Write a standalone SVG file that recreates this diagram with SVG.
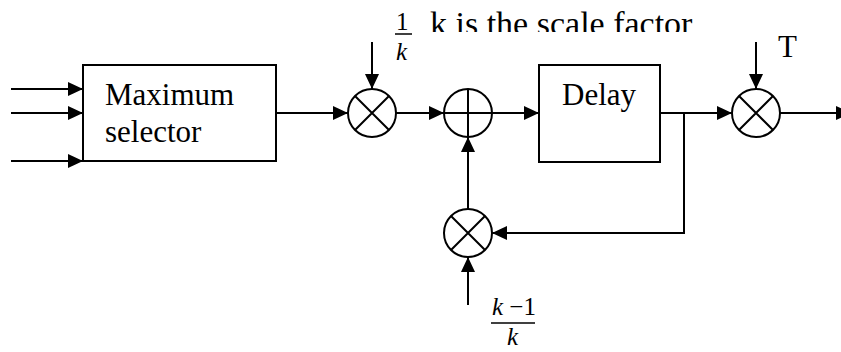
<svg xmlns="http://www.w3.org/2000/svg" width="841" height="352" viewBox="0 0 841 352">
<style>
.ln{fill:none;stroke:#000;stroke-width:2}
.ar{fill:none;stroke:#000;stroke-width:2;marker-end:url(#ah)}
text{font-family:"Liberation Serif","Times New Roman",serif;fill:#000}
.it{font-style:italic}
</style>
<defs>
<marker id="ah" markerUnits="userSpaceOnUse" markerWidth="16" markerHeight="16" refX="15" refY="7" orient="auto" overflow="visible">
<path d="M0,0 L15,7 L0,14 z" fill="#000"/>
</marker>
<clipPath id="topclip"><rect x="0" y="0" width="841" height="32"/></clipPath>
</defs>
<rect width="841" height="352" fill="#fff"/>
<g id="connectors">
<path class="ar" d="M11,89 H83"/>
<path class="ar" d="M11,113 H83"/>
<path class="ar" d="M11,161 H83"/>
<path class="ar" d="M276,113 H348"/>
<path class="ar" d="M372,42 V89"/>
<path class="ar" d="M396,113 H444"/>
<path class="ar" d="M492,113 H539"/>
<path class="ar" d="M660,113 H732"/>
<path class="ar" d="M756,42 V89"/>
<path class="ar" d="M780,113 H851"/>
<path class="ar" d="M684,113 V233 H492"/>
<path class="ar" d="M468,209 V137"/>
<path class="ar" d="M468,305 V257"/>
</g>
<g id="max-selector">
<rect class="ln" x="83" y="65" width="193" height="96"/>
<text x="105" y="105" font-size="31">Maximum</text>
<text x="105" y="142" font-size="31">selector</text>
</g>
<g id="mult1">
<circle class="ln" cx="372" cy="113" r="24"/>
<path class="ln" d="M355,96 L389,130 M389,96 L355,130"/>
</g>
<g id="sum">
<circle class="ln" cx="468" cy="113" r="24"/>
<path class="ln" d="M444,113 H492 M468,89 V137"/>
</g>
<g id="delay">
<rect class="ln" x="539" y="65" width="121" height="97"/>
<text x="562" y="105" font-size="31">Delay</text>
</g>
<g id="mult-t">
<circle class="ln" cx="756" cy="113" r="24"/>
<path class="ln" d="M739,96 L773,130 M773,96 L739,130"/>
</g>
<g id="mult-fb">
<circle class="ln" cx="468" cy="233" r="24"/>
<path class="ln" d="M451,216 L485,250 M485,216 L451,250"/>
</g>
<g id="labels">
<text x="430" y="35" font-size="34" clip-path="url(#topclip)">k is the scale factor</text>
<text x="778" y="57" font-size="31">T</text>
<text x="396" y="30" font-size="25">1</text>
<line x1="395" y1="34" x2="412" y2="34" stroke="#000" stroke-width="1.5"/>
<text class="it" x="396" y="60" font-size="25">k</text>
<text x="492" y="315" font-size="25"><tspan class="it">k</tspan> −1</text>
<line x1="491" y1="323" x2="535" y2="323" stroke="#000" stroke-width="1.5"/>
<text class="it" x="507" y="345" font-size="25">k</text>
</g>
</svg>
